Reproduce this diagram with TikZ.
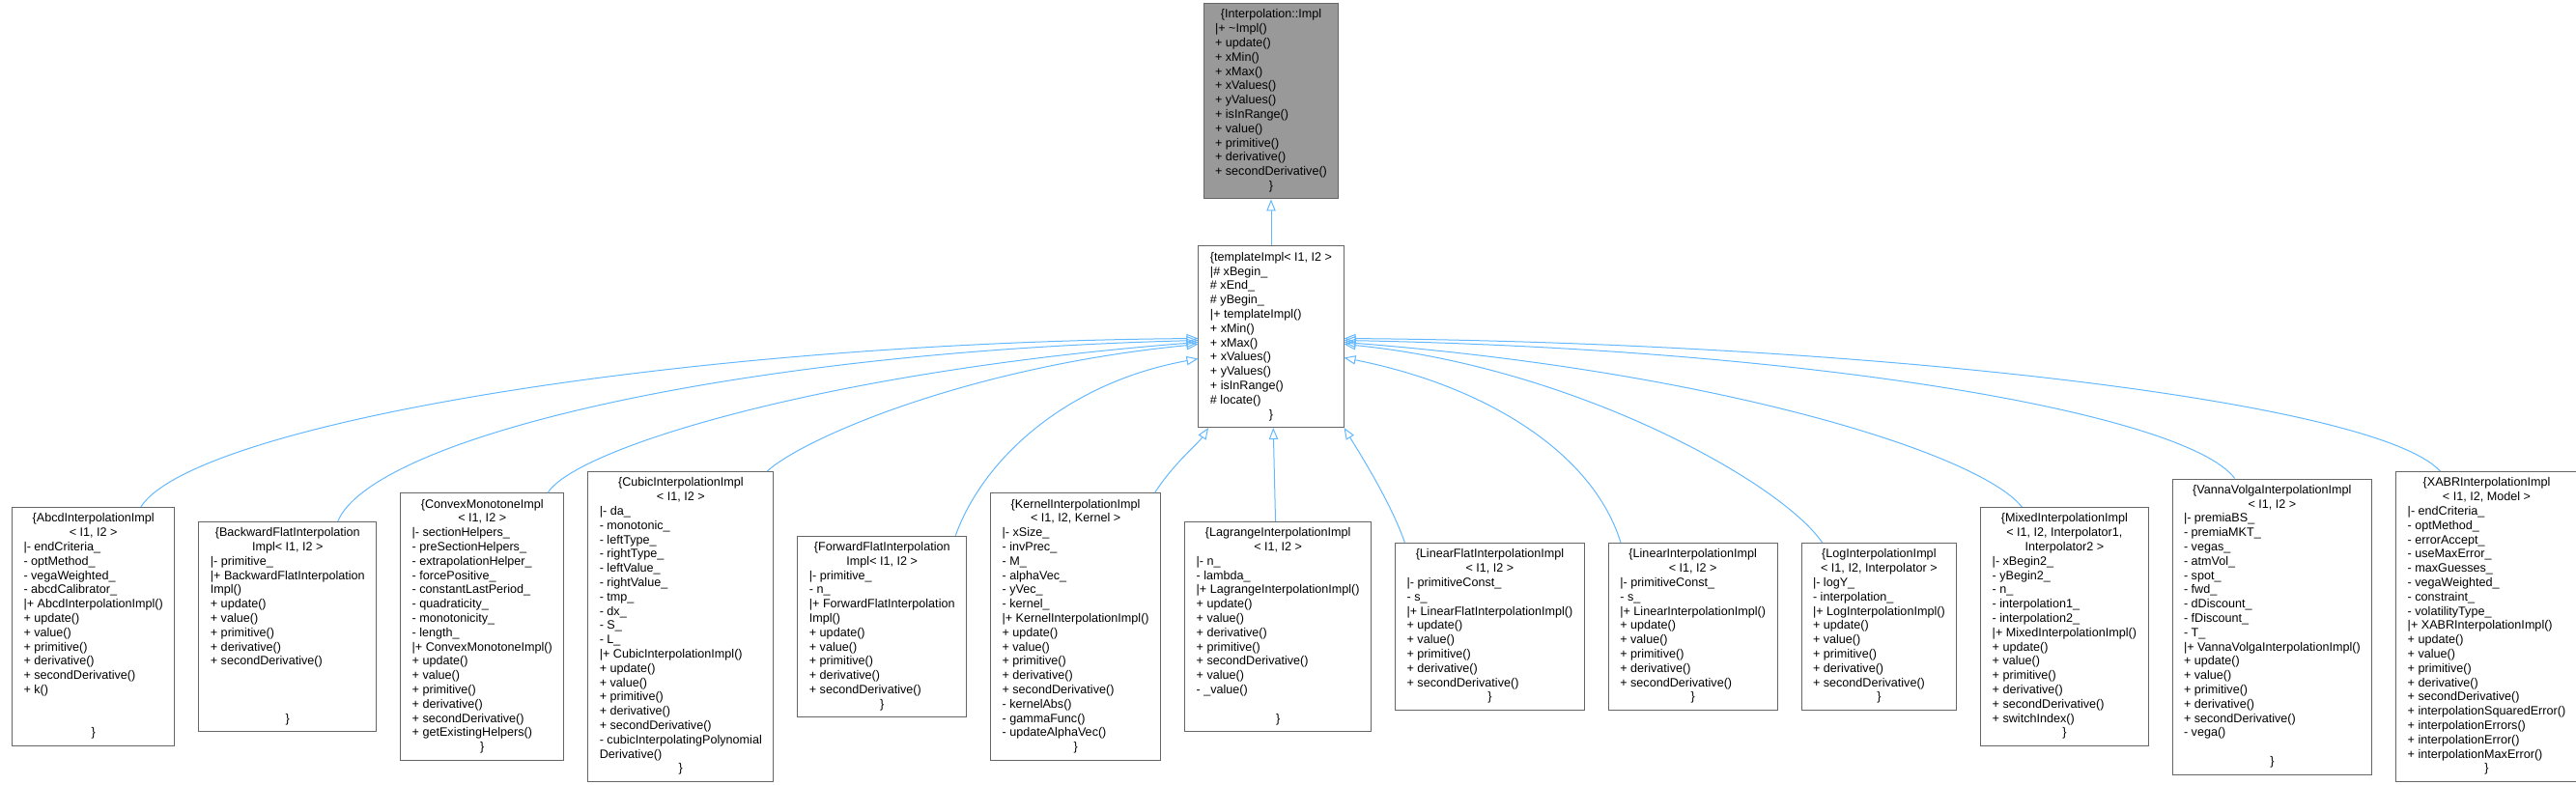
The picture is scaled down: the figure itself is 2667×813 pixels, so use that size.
\documentclass[tikz,border=0pt]{standalone}
\usepackage{fontspec}
\setmainfont{Liberation Sans}
\usetikzlibrary{positioning,arrows.meta}

\definecolor{edgeblue}{HTML}{63B8FF}
\definecolor{boxgray}{HTML}{666666}
\definecolor{basefill}{HTML}{999999}

\newcommand{\cname}[1]{\multicolumn{1}{@{}c@{}}{#1}}
\newcommand{\members}[1]{\begin{tabular}{@{}l@{}}#1\end{tabular}}

\tikzset{
    cls/.style = {
        draw = boxgray,
        fill = white,
        line width = 0.75pt,
        font = \fontsize{9.45}{11.1}\selectfont,
        inner xsep = 9pt,
        inner ysep = 3.75pt,
        },
    base cls/.style = {
        cls,
        fill = basefill,
        },
    inherit/.style = {
        draw = edgeblue,
        line width = 0.75pt,
        -{Triangle[open, length=9pt, width=7pt]},
        },
}

\begin{document}
\begin{tikzpicture}[x=0.75pt, y=-0.75pt]
    \useasboundingbox (0,0) rectangle (2667,813);

    \node[base cls, anchor=north] (base) at (1316,3) {\members{
        \cname{\{Interpolation::Impl}\\
        |+ \textasciitilde Impl()\\
        + update()\\
        + xMin()\\
        + xMax()\\
        + xValues()\\
        + yValues()\\
        + isInRange()\\
        + value()\\
        + primitive()\\
        + derivative()\\
        + secondDerivative()\\
        \cname{\}}}};
    \node[cls, below=36pt of base] (tmpl) {\members{
        \cname{\{templateImpl< I1, I2 >}\\
        |\# xBegin\_\\
        \# xEnd\_\\
        \# yBegin\_\\
        |+ templateImpl()\\
        + xMin()\\
        + xMax()\\
        + xValues()\\
        + yValues()\\
        + isInRange()\\
        \# locate()\\
        \cname{\}}}};

    % derived classes, one row
    \node[cls, anchor=west] (abcd) at (12,649) {\members{
        \cname{\{AbcdInterpolationImpl}\\
        \cname{< I1, I2 >}\\
        |- endCriteria\_\\
        - optMethod\_\\
        - vegaWeighted\_\\
        - abcdCalibrator\_\\
        |+ AbcdInterpolationImpl()\\
        + update()\\
        + value()\\
        + primitive()\\
        + derivative()\\
        + secondDerivative()\\
        + k()\\
        \\
        \\
        \cname{\}}}};
    \node[cls, right=18pt of abcd] (backflat) {\members{
        \cname{\{BackwardFlatInterpolation}\\
        \cname{Impl< I1, I2 >}\\
        |- primitive\_\\
        |+ BackwardFlatInterpolation\\
        Impl()\\
        + update()\\
        + value()\\
        + primitive()\\
        + derivative()\\
        + secondDerivative()\\
        \\
        \\
        \\
        \cname{\}}}};
    \node[cls, right=18pt of backflat] (convex) {\members{
        \cname{\{ConvexMonotoneImpl}\\
        \cname{< I1, I2 >}\\
        |- sectionHelpers\_\\
        - preSectionHelpers\_\\
        - extrapolationHelper\_\\
        - forcePositive\_\\
        - constantLastPeriod\_\\
        - quadraticity\_\\
        - monotonicity\_\\
        - length\_\\
        |+ ConvexMonotoneImpl()\\
        + update()\\
        + value()\\
        + primitive()\\
        + derivative()\\
        + secondDerivative()\\
        + getExistingHelpers()\\
        \cname{\}}}};
    \node[cls, right=18pt of convex] (cubic) {\members{
        \cname{\{CubicInterpolationImpl}\\
        \cname{< I1, I2 >}\\
        |- da\_\\
        - monotonic\_\\
        - leftType\_\\
        - rightType\_\\
        - leftValue\_\\
        - rightValue\_\\
        - tmp\_\\
        - dx\_\\
        - S\_\\
        - L\_\\
        |+ CubicInterpolationImpl()\\
        + update()\\
        + value()\\
        + primitive()\\
        + derivative()\\
        + secondDerivative()\\
        - cubicInterpolatingPolynomial\\
        Derivative()\\
        \cname{\}}}};
    \node[cls, right=18pt of cubic] (fwdflat) {\members{
        \cname{\{ForwardFlatInterpolation}\\
        \cname{Impl< I1, I2 >}\\
        |- primitive\_\\
        - n\_\\
        |+ ForwardFlatInterpolation\\
        Impl()\\
        + update()\\
        + value()\\
        + primitive()\\
        + derivative()\\
        + secondDerivative()\\
        \cname{\}}}};
    \node[cls, right=18pt of fwdflat] (kernel) {\members{
        \cname{\{KernelInterpolationImpl}\\
        \cname{< I1, I2, Kernel >}\\
        |- xSize\_\\
        - invPrec\_\\
        - M\_\\
        - alphaVec\_\\
        - yVec\_\\
        - kernel\_\\
        |+ KernelInterpolationImpl()\\
        + update()\\
        + value()\\
        + primitive()\\
        + derivative()\\
        + secondDerivative()\\
        - kernelAbs()\\
        - gammaFunc()\\
        - updateAlphaVec()\\
        \cname{\}}}};
    \node[cls, right=18pt of kernel] (lagrange) {\members{
        \cname{\{LagrangeInterpolationImpl}\\
        \cname{< I1, I2 >}\\
        |- n\_\\
        - lambda\_\\
        |+ LagrangeInterpolationImpl()\\
        + update()\\
        + value()\\
        + derivative()\\
        + primitive()\\
        + secondDerivative()\\
        + value()\\
        - \_value()\\
        \\
        \cname{\}}}};
    \node[cls, right=18pt of lagrange] (linflat) {\members{
        \cname{\{LinearFlatInterpolationImpl}\\
        \cname{< I1, I2 >}\\
        |- primitiveConst\_\\
        - s\_\\
        |+ LinearFlatInterpolationImpl()\\
        + update()\\
        + value()\\
        + primitive()\\
        + derivative()\\
        + secondDerivative()\\
        \cname{\}}}};
    \node[cls, right=18pt of linflat] (linear) {\members{
        \cname{\{LinearInterpolationImpl}\\
        \cname{< I1, I2 >}\\
        |- primitiveConst\_\\
        - s\_\\
        |+ LinearInterpolationImpl()\\
        + update()\\
        + value()\\
        + primitive()\\
        + derivative()\\
        + secondDerivative()\\
        \cname{\}}}};
    \node[cls, right=18pt of linear] (logint) {\members{
        \cname{\{LogInterpolationImpl}\\
        \cname{< I1, I2, Interpolator >}\\
        |- logY\_\\
        - interpolation\_\\
        |+ LogInterpolationImpl()\\
        + update()\\
        + value()\\
        + primitive()\\
        + derivative()\\
        + secondDerivative()\\
        \cname{\}}}};
    \node[cls, right=18pt of logint] (mixed) {\members{
        \cname{\{MixedInterpolationImpl}\\
        \cname{< I1, I2, Interpolator1,}\\
        \cname{Interpolator2 >}\\
        |- xBegin2\_\\
        - yBegin2\_\\
        - n\_\\
        - interpolation1\_\\
        - interpolation2\_\\
        |+ MixedInterpolationImpl()\\
        + update()\\
        + value()\\
        + primitive()\\
        + derivative()\\
        + secondDerivative()\\
        + switchIndex()\\
        \cname{\}}}};
    \node[cls, right=18pt of mixed] (vanna) {\members{
        \cname{\{VannaVolgaInterpolationImpl}\\
        \cname{< I1, I2 >}\\
        |- premiaBS\_\\
        - premiaMKT\_\\
        - vegas\_\\
        - atmVol\_\\
        - spot\_\\
        - fwd\_\\
        - dDiscount\_\\
        - fDiscount\_\\
        - T\_\\
        |+ VannaVolgaInterpolationImpl()\\
        + update()\\
        + value()\\
        + primitive()\\
        + derivative()\\
        + secondDerivative()\\
        - vega()\\
        \\
        \cname{\}}}};
    \node[cls, right=18pt of vanna] (xabr) {\members{
        \cname{\{XABRInterpolationImpl}\\
        \cname{< I1, I2, Model >}\\
        |- endCriteria\_\\
        - optMethod\_\\
        - errorAccept\_\\
        - useMaxError\_\\
        - maxGuesses\_\\
        - vegaWeighted\_\\
        - constraint\_\\
        - volatilityType\_\\
        |+ XABRInterpolationImpl()\\
        + update()\\
        + value()\\
        + primitive()\\
        + derivative()\\
        + secondDerivative()\\
        + interpolationSquaredError()\\
        + interpolationErrors()\\
        + interpolationError()\\
        + interpolationMaxError()\\
        \cname{\}}}};

    % inheritance
    \draw[inherit] (tmpl) -- (base);
    \draw[inherit] ([xshift=36.75pt]abcd.north) .. controls (200,440) and (700,355) .. ([yshift=-1.35pt]tmpl.west);
    \draw[inherit] ([xshift=39pt]backflat.north) .. controls (385,455) and (750,365) .. ([yshift=-2.85pt]tmpl.west);
    \draw[inherit] ([xshift=51pt]convex.north) .. controls (595,465) and (850,385) .. ([yshift=-4.35pt]tmpl.west);
    \draw[inherit] ([xshift=67pt]cubic.north) .. controls (830,455) and (1000,380) .. ([yshift=-5.85pt]tmpl.west);
    \draw[inherit] ([xshift=57pt]fwdflat.north) .. controls (1020,470) and (1110,395) .. ([yshift=-17.1pt]tmpl.west);
    \draw[inherit] ([xshift=61.5pt]kernel.north) .. controls (1215,480) and (1240,460) .. ([xshift=8pt]tmpl.south west);
    \draw[inherit] (lagrange) -- (tmpl);
    \draw[inherit] ([xshift=-66pt]linflat.north) .. controls (1440,520) and (1405,465) .. (tmpl.south east);
    \draw[inherit] ([xshift=-56pt]linear.north) .. controls (1650,470) and (1540,400) .. ([yshift=-16.35pt]tmpl.east);
    \draw[inherit] ([xshift=-44pt]logint.north) .. controls (1845,500) and (1630,380) .. ([yshift=-5.85pt]tmpl.east);
    \draw[inherit] ([xshift=-33pt]mixed.north) .. controls (2050,470) and (1780,385) .. ([yshift=-4.35pt]tmpl.east);
    \draw[inherit] ([xshift=-29pt]vanna.north) .. controls (2265,430) and (1890,362) .. ([yshift=-2.85pt]tmpl.east);
    \draw[inherit] ([xshift=-36pt]xabr.north) .. controls (2460,415) and (1932,355) .. ([yshift=-1.35pt]tmpl.east);
\end{tikzpicture}
\end{document}
